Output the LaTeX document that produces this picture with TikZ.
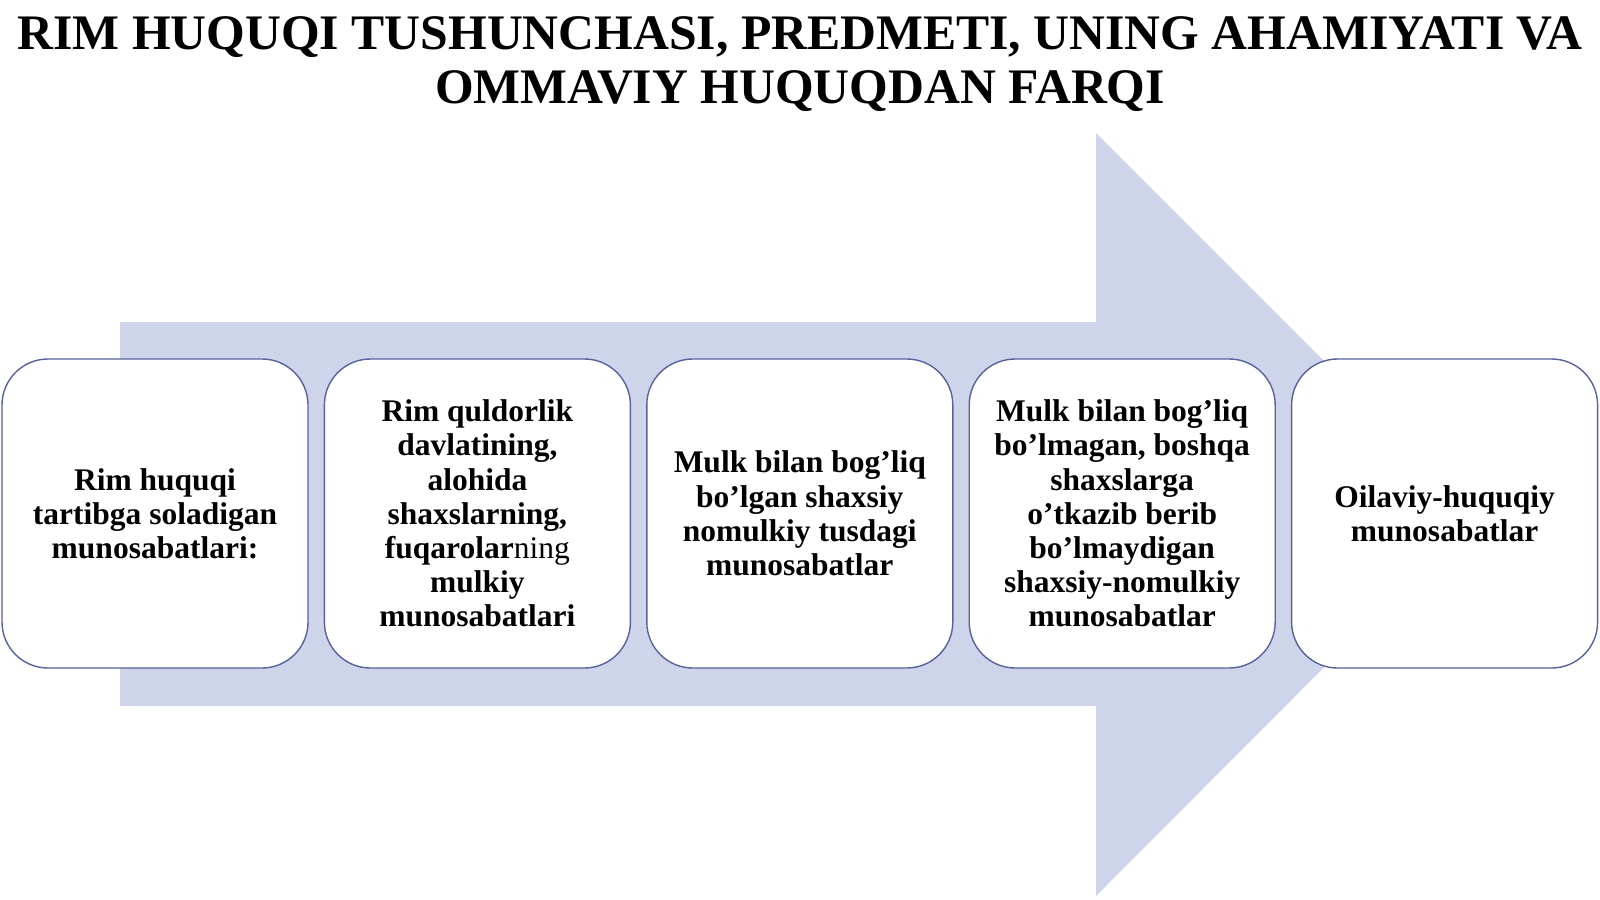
\documentclass[tikz,border=0pt]{standalone}
\usepackage{fontspec}
\setmainfont{Liberation Serif}
\usetikzlibrary{positioning}
\definecolor{arrowfill}{RGB}{206,212,234}
\definecolor{boxline}{RGB}{88,98,156}

\begin{document}
\begin{tikzpicture}[x=1pt,y=-1pt,
		box/.style={
			draw=boxline,
			line width=1.4pt,
			fill=white,
			rounded corners=46pt,
			minimum width=306pt,
			minimum height=309pt,
			align=center,
			font=\fontsize{31.5}{34.2}\selectfont\bfseries
		},
		heading/.style={
			align=center,
			font=\fontsize{49.7}{54}\selectfont\bfseries
		},
		node distance=15pt
		]
		
		\useasboundingbox (0,0) rectangle (1600,899);
		
		% big arrow behind the boxes
		\fill[arrowfill] (120,322) -- (1096,322) -- (1096,133) -- (1477,514)
		-- (1096,896) -- (1096,706) -- (120,706) -- cycle;
		
		\node[heading] at (800,64) 
		(title) {RIM HUQUQI TUSHUNCHASI, PREDMETI, UNING AHAMIYATI VA\\
			OMMAVIY HUQUQDAN FARQI};
		
		\node[box] at (155,513.5) 
		(b1) {Rim huquqi\\ tartibga soladigan\\ munosabatlari:};
		
		\node[box, right=of b1] 
		(b2) {Rim quldorlik\\ davlatining,\\ alohida\\ shaxslarning,\\
			fuqarolar{\mdseries ning}\\ mulkiy\\ munosabatlari};
		
		\node[box, right=of b2] 
		(b3) {Mulk bilan bog’liq\\ bo’lgan shaxsiy\\ nomulkiy tusdagi\\ munosabatlar};
		
		\node[box, right=of b3] 
		(b4) {Mulk bilan bog’liq\\ bo’lmagan, boshqa\\ shaxslarga\\ o’tkazib berib\\
			bo’lmaydigan\\ shaxsiy-nomulkiy\\ munosabatlar};
		
		\node[box, right=of b4] 
		(b5) {Oilaviy-huquqiy\\ munosabatlar};
		
		\end{tikzpicture}
\end{document}
